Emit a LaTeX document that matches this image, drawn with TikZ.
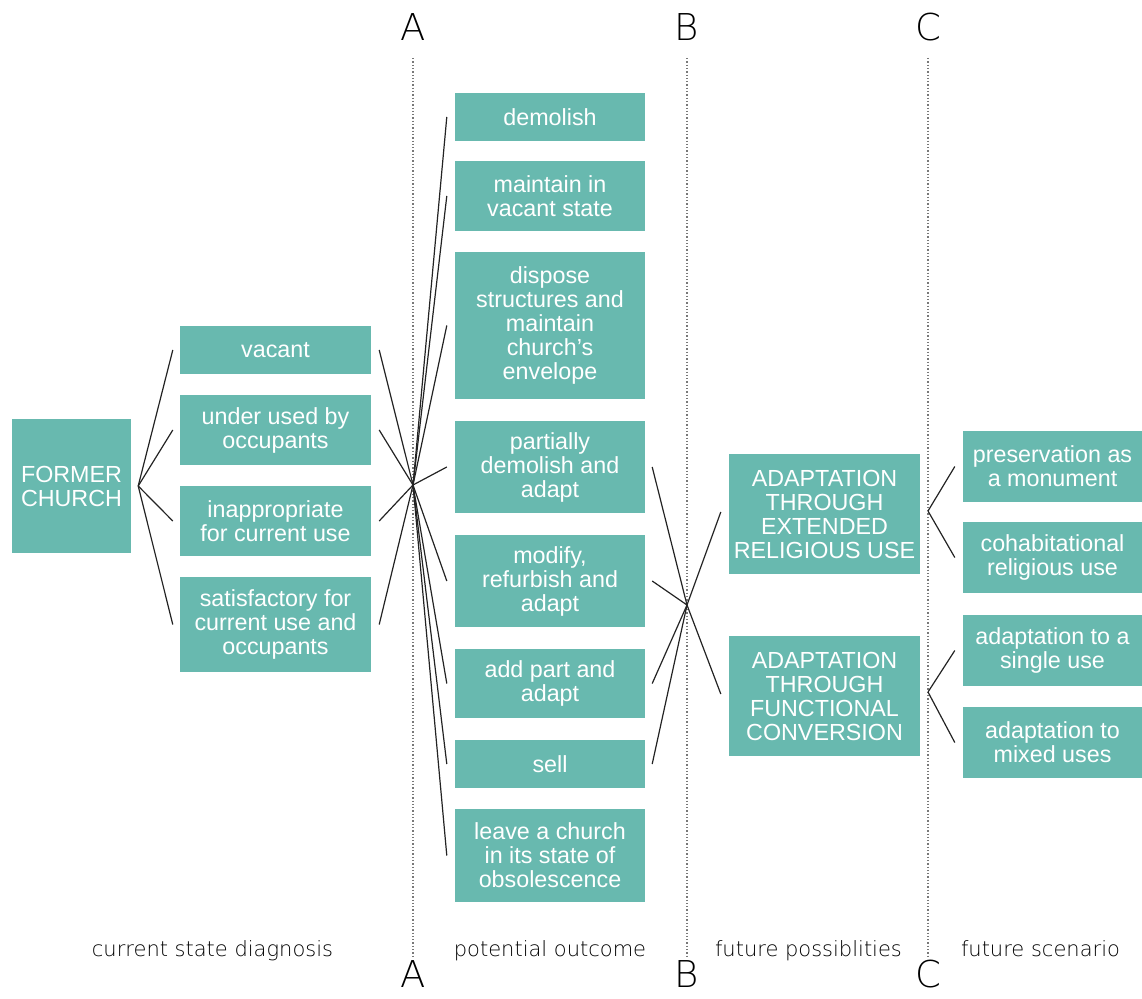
\documentclass[tikz,border=0pt]{standalone}
\usepackage{fontspec}
\setmainfont{Liberation Sans}
\newfontfamily\thinfont{DejaVu Sans ExtraLight}
\usetikzlibrary{calc}
\definecolor{boxteal}{RGB}{104,185,175}
\definecolor{linegray}{RGB}{35,35,35}
\definecolor{guidegray}{RGB}{120,120,120}
\begin{document}
\begin{tikzpicture}[x=1pt,y=-1pt,
  box/.style={fill=boxteal, text=white, inner sep=0pt, align=center,
    font=\fontsize{23.3}{24}\selectfont},
  link/.style={draw=linegray, line width=1.2pt},
  guide/.style={draw=guidegray, line width=1.3pt, dotted},
  letter/.style={anchor=base, inner sep=0pt, font=\thinfont\fontsize{37}{40}\selectfont},
  caption/.style={anchor=base, text=black, font=\thinfont\fontsize{21}{24}\selectfont}]
\useasboundingbox (0,0) rectangle (1142,998);

% section markers and dotted dividers
\foreach \x/\l in {413/A,687/B,928/C} {
  \node[letter] (top\l) at (\x,41) {\l};
  \node[letter] (bot\l) at (\x,987) {\l};
  \draw[guide] (\x,58) -- (\x,958);
}

% column captions
\node[caption] (capA) at (212.5,956) {current state diagnosis};
\node[caption] (capB) at (550,956) {potential outcome};
\node[caption] (capC) at (808.5,956) {future possiblities};
\node[caption] (capD) at (1040.5,956) {future scenario};

% starting point
\node[box, minimum width=119pt, minimum height=134pt] (fc) at (71.5,486) {FORMER\\CHURCH};

% current state diagnosis
\node[box, minimum width=191pt, minimum height=48pt] (vac) at (275.5,350) {vacant};
\node[box, minimum width=191pt, minimum height=70pt] (und) at (275.5,430) {under used by\\occupants};
\node[box, minimum width=191pt, minimum height=70pt] (ina) at (275.5,521) {inappropriate\\for current use};
\node[box, minimum width=191pt, minimum height=95pt] (sat) at (275.5,624.5) {satisfactory for\\current use and\\occupants};

% potential outcome
\node[box, minimum width=190pt, minimum height=48pt] (dem) at (550,117) {demolish};
\node[box, minimum width=190pt, minimum height=70pt] (mai) at (550,196) {maintain in\\vacant state};
\node[box, minimum width=190pt, minimum height=147pt] (dis) at (550,325.5) {dispose\\structures and\\maintain\\church’s\\envelope};
\node[box, minimum width=190pt, minimum height=92pt] (par) at (550,467) {partially\\demolish and\\adapt};
\node[box, minimum width=190pt, minimum height=92pt] (mod) at (550,581) {modify,\\refurbish and\\adapt};
\node[box, minimum width=190pt, minimum height=69pt] (add) at (550,683.5) {add part and\\adapt};
\node[box, minimum width=190pt, minimum height=48pt] (sel) at (550,764) {sell};
\node[box, minimum width=190pt, minimum height=93pt] (lea) at (550,855.5) {leave a church\\in its state of\\obsolescence};

% future possibilities
\node[box, minimum width=191pt, minimum height=120pt] (ext) at (824.5,514) {ADAPTATION\\THROUGH\\EXTENDED\\RELIGIOUS USE};
\node[box, minimum width=191pt, minimum height=120pt] (fun) at (824.5,696) {ADAPTATION\\THROUGH\\FUNCTIONAL\\CONVERSION};

% future scenario
\node[box, minimum width=179pt, minimum height=71pt] (pre) at (1052.5,466.5) {preservation as\\a monument};
\node[box, minimum width=179pt, minimum height=71pt] (coh) at (1052.5,557.5) {cohabitational\\religious use};
\node[box, minimum width=179pt, minimum height=71pt] (sin) at (1052.5,650.5) {adaptation to a\\single use};
\node[box, minimum width=179pt, minimum height=71pt] (mix) at (1052.5,742.5) {adaptation to\\mixed uses};

% branching hubs
\coordinate (hubF) at ($(fc.east)+(7,0)$);
\coordinate (hubA) at (413,485);
\coordinate (hubB) at (687,605);
\coordinate (hubC1) at (928,511);
\coordinate (hubC2) at (928,692);

% connectors
\foreach \n in {vac,und,ina,sat} {
  \draw[link] (hubF) -- ($(\n.west)+(-7,0)$);
  \draw[link] ($(\n.east)+(8,0)$) -- (hubA);
}
\foreach \n in {dem,mai,dis,par,mod,add,sel,lea}
  \draw[link] (hubA) -- ($(\n.west)+(-8,0)$);
\foreach \n in {par,mod,add,sel}
  \draw[link] ($(\n.east)+(7,0)$) -- (hubB);
\foreach \n in {ext,fun}
  \draw[link] (hubB) -- ($(\n.west)+(-8,-2)$);
\foreach \n in {pre,coh}
  \draw[link] (hubC1) -- ($(\n.west)+(-8,0)$);
\foreach \n in {sin,mix}
  \draw[link] (hubC2) -- ($(\n.west)+(-8,0)$);
\end{tikzpicture}
\end{document}
